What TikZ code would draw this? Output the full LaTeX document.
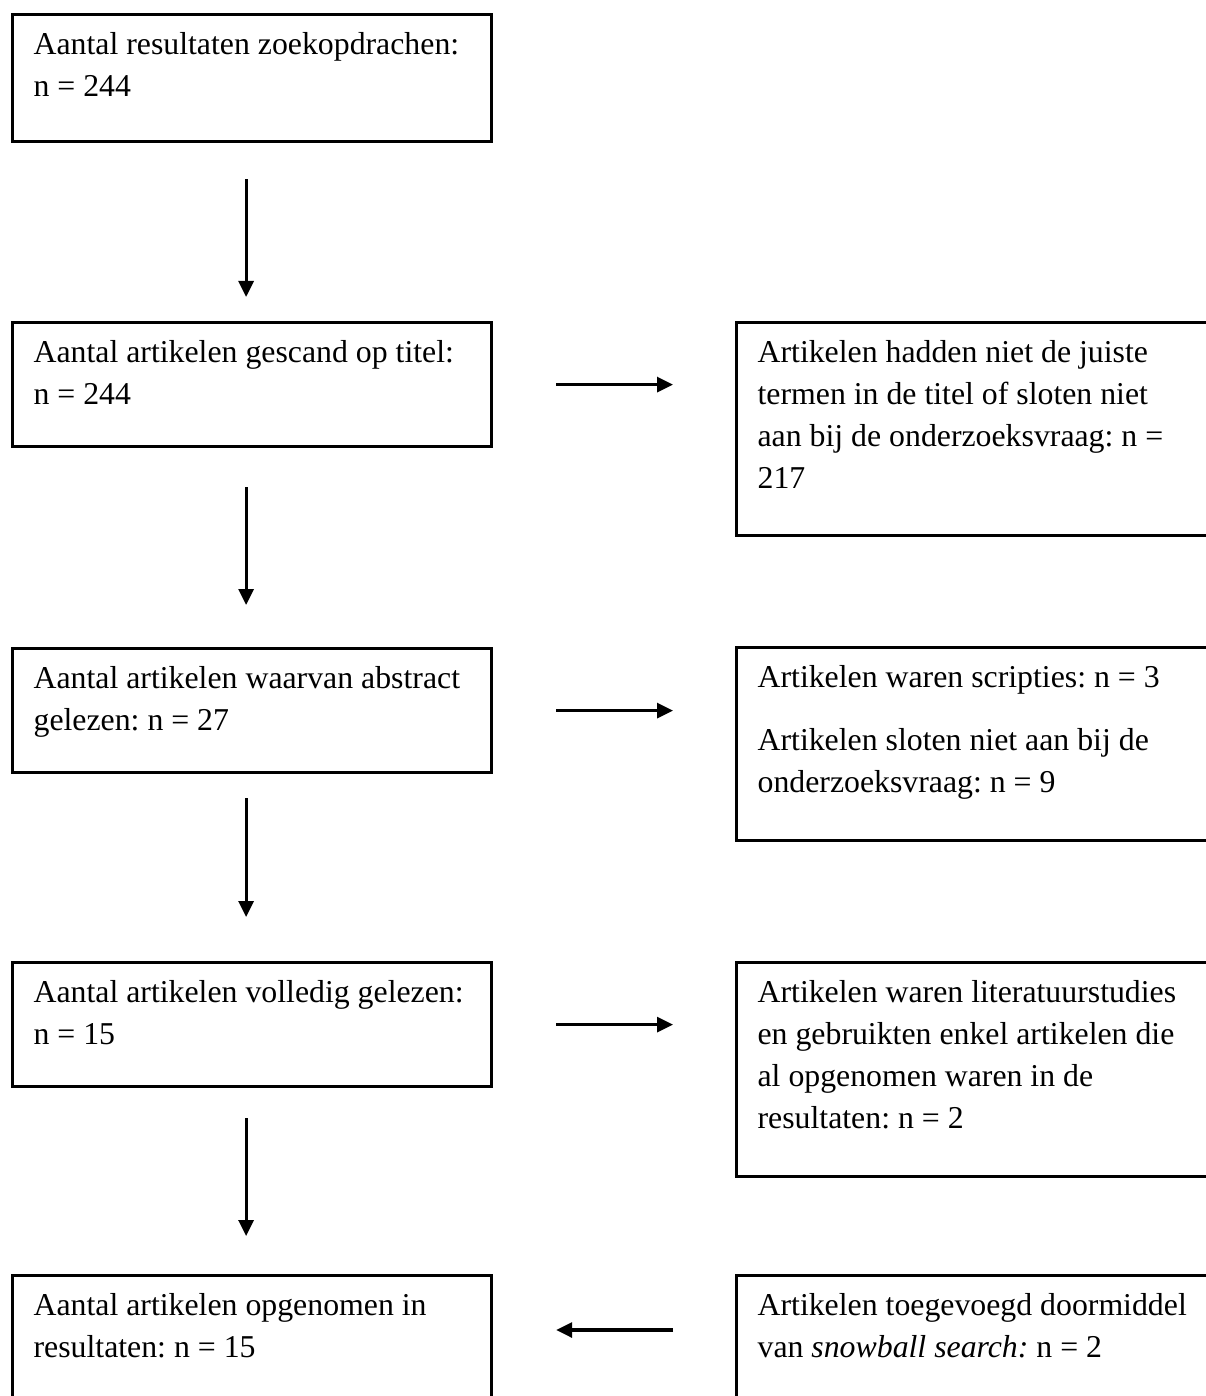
\documentclass[tikz,border=0pt]{standalone}
\usepackage{fontspec}
\setmainfont{Liberation Serif}
\usetikzlibrary{arrows.meta}
\frenchspacing

\begin{document}
\begin{tikzpicture}[x=1pt,y=-1pt,>={Triangle[length=16pt,width=15pt]},line width=3.2pt]
  \tikzstyle{lbox}=[rectangle,draw,anchor=north west,align=flush left,text width=437pt,inner xsep=21pt,inner ysep=0pt,text height=40pt,font=\fontsize{31.8}{42}\selectfont]
  \tikzstyle{rbox}=[lbox,text width=443pt]
  \useasboundingbox (0,0) rectangle (1205,1396);
  % left column
  \node(n-search) at (11,13) [lbox,text depth=87pt]{Aantal resultaten zoekopdrachen:\\n = 244};
  \node(n-title) at (11,321) [lbox,text depth=84pt]{Aantal artikelen gescand op titel:\\n = 244};
  \node(n-abstract) at (11,647) [lbox,text depth=84pt]{Aantal artikelen waarvan abstract\\gelezen: n = 27};
  \node(n-full) at (11,961) [lbox,text depth=84pt]{Aantal artikelen volledig gelezen:\\n = 15};
  \node(n-incl) at (11,1274) [lbox,text depth=110pt]{Aantal artikelen opgenomen in\\resultaten: n = 15};
  % right column
  \node(x-title) at (735,321) [rbox,text depth=173pt]{Artikelen hadden niet de juiste\\termen in de titel of sloten niet\\aan bij de onderzoeksvraag: n =\\217};
  \node(x-abstract) at (735,646) [rbox,text depth=153pt]{Artikelen waren scripties: n = 3\\[21pt]Artikelen sloten niet aan bij de\\onderzoeksvraag: n = 9};
  \node(x-full) at (735,961) [rbox,text depth=174pt]{Artikelen waren literatuurstudies\\en gebruikten enkel artikelen die\\al opgenomen waren in de\\resultaten: n = 2};
  \node(snowball) at (735,1274) [rbox,text depth=110pt]{Artikelen toegevoegd doormiddel\\van \textit{snowball search:} n = 2};
  \draw[->,shorten <=36pt,shorten >=24pt]([xshift=-6pt]n-search.south)--([xshift=-6pt]n-title.north);
  \draw[->,shorten <=39pt,shorten >=42pt]([xshift=-6pt]n-title.south)--([xshift=-6pt]n-abstract.north);
  \draw[->,shorten <=24pt,shorten >=44pt]([xshift=-6pt]n-abstract.south)--([xshift=-6pt]n-full.north);
  \draw[->,shorten <=30pt,shorten >=38pt]([xshift=-6pt]n-full.south)--([xshift=-6pt]n-incl.north);
  \draw[->,shorten <=63pt,shorten >=62pt](n-title.east)--(n-title.east -| x-title.west);
  \draw[->,shorten <=63pt,shorten >=62pt](n-abstract.east)--(n-abstract.east -| x-abstract.west);
  \draw[->,shorten <=63pt,shorten >=62pt](n-full.east)--(n-full.east -| x-full.west);
  \draw[->,shorten <=62pt,shorten >=63pt]([yshift=-56pt]snowball.north west)--([yshift=-56pt]n-incl.north east);
\end{tikzpicture}
\end{document}
